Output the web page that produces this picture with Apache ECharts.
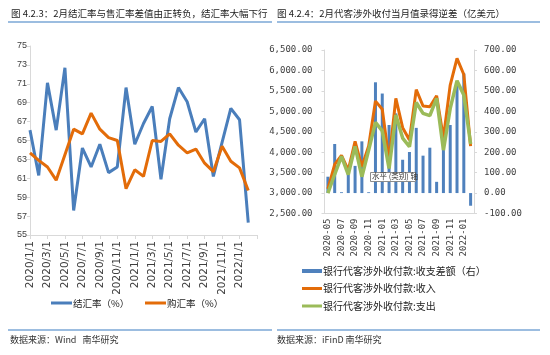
<!DOCTYPE html>
<html><head><meta charset="utf-8">
<script src="https://cdn.jsdelivr.net/npm/echarts@6.0.0/dist/echarts.min.js"></script>
<style>html,body{margin:0;padding:0;background:#fff}#c{width:550px;height:355px}</style>
</head><body><div id="c"></div>
<script>
// ---- Left chart data (结汇率 / 购汇率, %) ----
const leftDates = ['2020/1/1','2020/2/1','2020/3/1','2020/4/1','2020/5/1','2020/6/1','2020/7/1','2020/8/1','2020/9/1','2020/10/1','2020/11/1','2020/12/1',
  '2021/1/1','2021/2/1','2021/3/1','2021/4/1','2021/5/1','2021/6/1','2021/7/1','2021/8/1','2021/9/1','2021/10/1','2021/11/1','2021/12/1',
  '2022/1/1','2022/2/1','2022/3/1'];
const settleRate = [66.1, 61.3, 71.1, 66.1, 72.7, 57.6, 64.2, 62.2, 64.6, 61.6, 62.2, 70.6, 64.6, 66.8, 68.6, 60.9, 67.3, 70.6, 69.1, 65.9, 67.3, 61.2, 64.8, 68.4, 67.2, 56.3];
const purchaseRate = [63.7, 62.9, 62.2, 60.8, 63.5, 66.2, 65.7, 67.9, 66.2, 65.3, 65.0, 59.9, 61.9, 61.2, 65.0, 64.9, 65.7, 64.5, 63.7, 64.1, 62.6, 61.7, 64.4, 62.8, 62.1, 59.7];

// ---- Right chart data (银行代客涉外收付款, 亿美元) ----
const rightMonths = ['2020-05','2020-06','2020-07','2020-08','2020-09','2020-10','2020-11','2020-12','2021-01','2021-02','2021-03','2021-04',
  '2021-05','2021-06','2021-07','2021-08','2021-09','2021-10','2021-11','2021-12','2022-01','2022-02'];
const balance = [80, 240, 4, 112, 133, 253, 4, 542, 487, 333, 390, 163, 201, 319, 183, 222, 55, 280, 333, 529, 586, -62];
const income  = [3100, 3700, 3920, 3560, 4265, 3645, 4150, 5250, 5050, 3800, 5318, 4600, 4298, 5530, 5130, 5113, 5381, 4350, 5643, 6296, 5900, 4150];
const expense = [3000, 3460, 3900, 3450, 4140, 3400, 4050, 4730, 4520, 3600, 4909, 4345, 4134, 5215, 4951, 4895, 5318, 4050, 5070, 5750, 5400, 4200];

const leftNames = ['结汇率（%）', '购汇率（%）'];
const rightNames = ['银行代客涉外收付款:收支差额（右）', '银行代客涉外收付款:收入', '银行代客涉外收付款:支出'];

const BLUE = '#4A7EBB', ORANGE = '#E36C09', GREEN = '#9BBB59', BAR = '#4F81BD';
const AX = '#d9d9d9', LBL = '#404040';
const CJK = '"Noto Sans CJK SC", sans-serif';

const chart = echarts.init(document.getElementById('c'), null, {renderer: 'canvas'});

function legendItem(name, left, top, icon, w, h, fs) {
  return {
    data: [{name: name, icon: icon}], left: left, top: top, padding: 0,
    itemWidth: w, itemHeight: h, selectedMode: false,
    textStyle: {fontFamily: CJK, fontSize: fs, color: '#222', padding: [0, 0, 0, -4], lineHeight: 12}
  };
}

chart.setOption({
  animation: false,
  backgroundColor: '#fff',
  grid: [
    {left: 30, top: 46, right: 293, bottom: 120},
    {left: 324.5, top: 50, right: 76, bottom: 141.5}
  ],
  xAxis: [
    {gridIndex: 0, type: 'category', data: leftDates, boundaryGap: false,
     axisLine: {lineStyle: {color: AX}},
     axisTick: {interval: (i) => i % 2 === 0, length: 4, lineStyle: {color: AX}},
     axisLabel: {interval: (i) => i % 2 === 0 && i < 26, rotate: 90, fontSize: 10.5, fontFamily: 'DejaVu Sans', color: LBL, margin: 6}},
    {gridIndex: 1, type: 'category', data: rightMonths, boundaryGap: true,
     axisLine: {onZero: false, lineStyle: {color: AX}},
     axisTick: {interval: (i) => i % 2 === 0, length: 3, lineStyle: {color: AX}},
     axisLabel: {interval: (i) => i % 2 === 0, rotate: 90, fontSize: 9, fontFamily: 'DejaVu Sans Mono', color: LBL, margin: 5}}
  ],
  yAxis: [
    {gridIndex: 0, type: 'value', min: 55, max: 75, interval: 2,
     axisLine: {show: true, lineStyle: {color: AX}},
     axisTick: {show: true, length: 3, lineStyle: {color: AX}},
     splitLine: {show: false},
     axisLabel: {fontSize: 9, fontFamily: 'Liberation Sans', color: LBL, margin: 3}},
    {gridIndex: 1, type: 'value', min: 2500, max: 6500, interval: 500,
     axisLine: {show: true, lineStyle: {color: AX}},
     axisTick: {show: true, length: 3, lineStyle: {color: AX}},
     splitLine: {show: false},
     axisLabel: {fontSize: 9, fontFamily: 'DejaVu Sans Mono', color: LBL, margin: 12,
       formatter: (v) => v.toLocaleString('en-US', {minimumFractionDigits: 2, maximumFractionDigits: 2})}},
    {gridIndex: 1, type: 'value', position: 'right', min: -100, max: 700, interval: 100,
     axisLine: {show: true, lineStyle: {color: AX}},
     axisTick: {show: true, length: 3, lineStyle: {color: AX}},
     splitLine: {show: false},
     axisLabel: {fontSize: 9, fontFamily: 'DejaVu Sans Mono', color: LBL, margin: 10,
       formatter: (v) => v.toFixed(2)}}
  ],
  legend: [
    legendItem(leftNames[0], 51, 297, 'rect', 21, 3, 9.5),
    legendItem(leftNames[1], 145, 297, 'rect', 21, 3, 9.5),
    legendItem(rightNames[0], 302, 265, 'rect', 20, 4, 10),
    legendItem(rightNames[1], 302, 282.5, 'rect', 20, 3, 10),
    legendItem(rightNames[2], 302, 300, 'rect', 20, 3, 10)
  ],
  series: [
    {name: leftNames[0], type: 'line', xAxisIndex: 0, yAxisIndex: 0, data: settleRate,
     showSymbol: false, symbol: 'none', lineStyle: {color: BLUE, width: 3}, itemStyle: {color: BLUE}},
    {name: leftNames[1], type: 'line', xAxisIndex: 0, yAxisIndex: 0, data: purchaseRate,
     showSymbol: false, symbol: 'none', lineStyle: {color: ORANGE, width: 3}, itemStyle: {color: ORANGE}},
    {name: rightNames[0], type: 'bar', xAxisIndex: 1, yAxisIndex: 2, data: balance,
     barWidth: 3, itemStyle: {color: BAR}},
    {name: rightNames[1], type: 'line', xAxisIndex: 1, yAxisIndex: 1, data: income,
     showSymbol: false, symbol: 'none', lineStyle: {color: ORANGE, width: 3}, itemStyle: {color: ORANGE}},
    {name: rightNames[2], type: 'line', xAxisIndex: 1, yAxisIndex: 1, data: expense,
     showSymbol: false, symbol: 'none', lineStyle: {color: GREEN, width: 3.5}, itemStyle: {color: GREEN}}
  ],
  graphic: [
    {type: 'text', left: 11, top: 9, style: {text: '图 4.2.3：2月结汇率与售汇率差值由正转负，结汇率大幅下行', font: '9.5px ' + CJK, fill: '#222'}},
    {type: 'text', left: 277, top: 9, style: {text: '图 4.2.4：2月代客涉外收付当月值录得逆差（亿美元）', font: '9.5px ' + CJK, fill: '#222'}},
    {type: 'line', shape: {x1: 8, y1: 22, x2: 272, y2: 22}, style: {stroke: '#7BA7D6', lineWidth: 1.5}},
    {type: 'line', shape: {x1: 277, y1: 22, x2: 540, y2: 22}, style: {stroke: '#7BA7D6', lineWidth: 1.5}},
    {type: 'line', shape: {x1: 8, y1: 330, x2: 272, y2: 330}, style: {stroke: '#7BA7D6', lineWidth: 1.5}},
    {type: 'line', shape: {x1: 277, y1: 330, x2: 540, y2: 330}, style: {stroke: '#7BA7D6', lineWidth: 1.5}},
    {type: 'text', left: 10, top: 335, style: {text: '数据来源：Wind   南华研究', font: '9px ' + CJK, fill: '#333'}},
    {type: 'text', left: 277, top: 335, style: {text: '数据来源：iFinD 南华研究', font: '9px ' + CJK, fill: '#333'}},
    {type: 'rect', shape: {x: 370.5, y: 172.5, width: 45, height: 9}, style: {fill: '#fff', stroke: '#8c8c8c', lineWidth: 1}, z: 100},
    {type: 'text', left: 372, top: 172.5, z: 101, style: {text: '水平 (类别) 轴', font: '7.5px ' + CJK, fill: '#333'}}
  ]
});
</script>
</body></html>
